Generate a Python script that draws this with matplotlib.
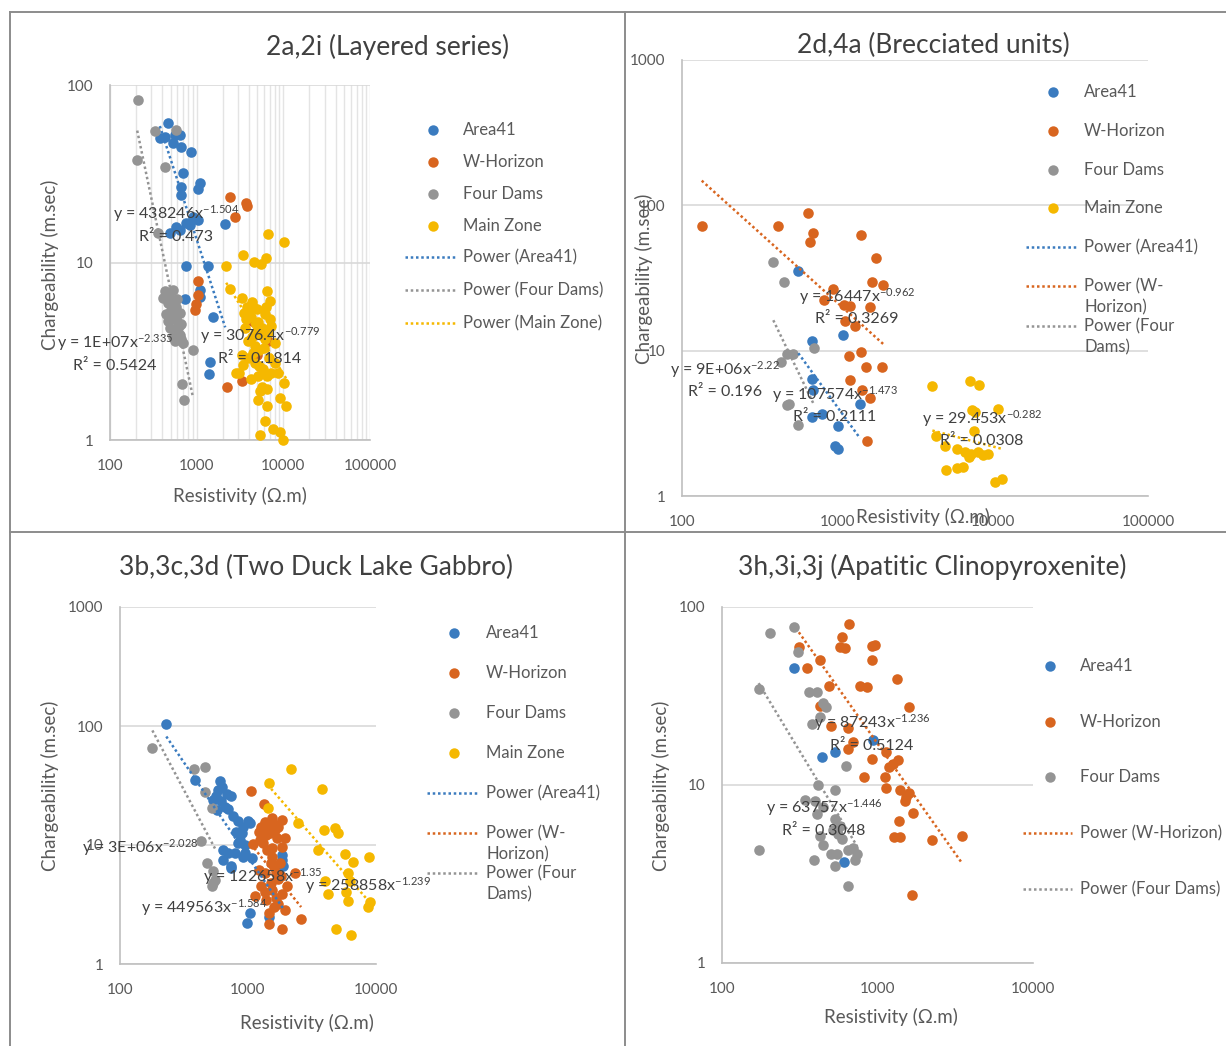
import numpy as np
import matplotlib
matplotlib.use("Agg")
import matplotlib.pyplot as plt
from matplotlib.lines import Line2D
from matplotlib.ticker import FixedLocator, FixedFormatter, NullFormatter, LogLocator

# ---------------- 2a,2i (Layered series) ----------------
LAYERED_AREA41_RES = [464, 428, 559, 638, 534, 668, 376, 870, 700, 668, 668, 1081, 1040, 760, 638,
                      489, 900, 1040, 832, 2134, 760, 1360, 1081, 1081, 728, 1540, 1410, 1374, 584]
LAYERED_AREA41_CHG = [61, 51, 52, 52, 47, 45, 50, 42, 31.8, 26.7, 24, 28, 26, 16.6, 15.2,
                      14.7, 18.1, 17.3, 16.2, 16.5, 9.5, 9.5, 7.0, 6.4, 6.2, 4.9, 2.76, 2.35, 15.9]
LAYERED_WHOR_RES = [2395, 3855, 3700, 2734, 1040, 1040, 992, 949, 2250, 3300, 4300, 6650, 5000]
LAYERED_WHOR_CHG = [23.5, 20.8, 21.5, 18.1, 7.9, 6.6, 5.8, 5.4, 2.0, 2.15, 4.7, 3.6, 3.0]
LAYERED_FDAMS_RES = [211, 329, 584, 206, 428, 359, 428, 534, 467, 583, 448, 559, 668, 489, 611,
                     534, 668, 700, 410, 638, 900, 677, 715, 480, 520, 600, 470, 620, 560, 640,
                     500, 590]
LAYERED_FDAMS_CHG = [82, 55, 56, 37.8, 34.5, 14.6, 6.9, 7.0, 5.9, 5.6, 5.1, 4.9, 4.5, 4.3, 4.0,
                     3.8, 3.7, 3.5, 6.3, 5.2, 3.2, 2.07, 1.68, 6.6, 6.0, 6.2, 4.7, 4.4, 3.6, 3.9,
                     5.4, 4.7]
LAYERED_MAIN_RES = [6730, 10260, 3405, 4640, 5540, 6330, 2190, 2400, 6400, 7000, 3300, 3800, 4500,
                    6100, 5100, 3700, 7300, 4650, 6650, 7950, 3300, 2880, 3430, 5100, 8700, 7300,
                    5330, 6400, 5100, 6400, 9100, 10800, 6100, 7600, 9100, 5330, 9900, 3900, 4650,
                    3500, 4200, 5000, 5600, 4400, 6200, 5300, 3900, 4700, 6800, 5800, 8000, 4200,
                    3100, 10300, 4000, 4800, 5500, 6000, 4500, 5200, 6500, 5700, 3600, 7000, 6300,
                    4300]
LAYERED_MAIN_CHG = [14.4, 13, 11, 10.1, 9.8, 10.6, 9.5, 7.1, 6.9, 6.1, 6.3, 5.6, 5.6,
                    5.1, 4.6, 4.8, 4.4, 4.0, 4.0, 3.5, 3.0, 2.4, 2.65, 2.3, 2.4, 2.4,
                    1.9, 1.95, 1.68, 1.55, 1.72, 1.55, 1.28, 1.16, 1.11, 1.07, 1.0, 3.6, 3.4,
                    5.2, 4.9, 5.5, 4.3, 3.8, 3.7, 3.2, 2.9, 2.7, 2.9, 2.5, 2.7, 2.2,
                    2.4, 2.1, 5.3, 4.5, 3.9, 3.3, 3.1, 2.6, 2.3, 2.0, 4.3, 4.8, 5.6,
                    6.0]
LAYERED_FIT_SERIES = ["Area41", "Four Dams", "Main Zone"]
LAYERED_FIT_COEF = [438246, 1.4e7, 3076.4]
LAYERED_FIT_EXP = [-1.504, -2.335, -0.779]
LAYERED_FIT_R2 = [0.473, 0.5424, 0.1814]

# ---------------- 2d,4a (Brecciated units) ----------------
BRECCIA_AREA41_RES = [561, 1084, 691, 684, 695, 1400, 684, 794, 1016, 966, 1016]
BRECCIA_AREA41_CHG = [35.3, 12.8, 11.7, 6.4, 5.4, 4.3, 3.5, 3.66, 3.03, 2.2, 2.1]
BRECCIA_WHOR_RES = [134, 417, 644, 695, 667, 1416, 1776, 1665, 1977, 942, 820, 1100, 1200, 1625,
                    1122, 1301, 1189, 1416, 1525, 1950, 1208, 1436, 1625, 1560]
BRECCIA_WHOR_CHG = [72, 72, 88, 64.7, 55.6, 62.5, 43.6, 29.8, 28.3, 26.5, 22.3, 20.6, 20.3, 19.9,
                    16, 14.8, 9.2, 9.8, 7.7, 7.7, 6.3, 5.4, 4.7, 2.4]
BRECCIA_FDAMS_RES = [387, 454, 708, 472, 516, 433, 472, 490, 556]
BRECCIA_FDAMS_CHG = [40.9, 29.8, 10.4, 9.5, 9.5, 8.4, 4.2, 4.3, 3.1]
BRECCIA_MAIN_RES = [4090, 7140, 8200, 7330, 7700, 10800, 4300, 7630, 4930, 5900, 6600, 7300, 8000,
                    8700, 9370, 7000, 5010, 5870, 6420, 10360, 11430]
BRECCIA_MAIN_CHG = [5.7, 6.2, 5.8, 3.9, 3.8, 4.0, 2.6, 2.8, 2.2, 2.1, 2.0, 1.95, 2.0,
                    1.9, 1.96, 1.85, 1.52, 1.55, 1.59, 1.25, 1.3]
BRECCIA_FIT_SERIES = ["Area41", "W-Horizon", "Four Dams", "Main Zone"]
BRECCIA_FIT_COEF = [107574, 16447, 9e6, 29.453]
BRECCIA_FIT_EXP = [-1.473, -0.962, -2.22, -0.282]
BRECCIA_FIT_R2 = [0.2111, 0.3269, 0.196, 0.0308]

# ---------------- 3b,3c,3d (Two Duck Lake Gabbro) ----------------
GABBRO_AREA41_RES = [230, 385, 604, 630, 585, 535, 620, 740, 570, 661, 768, 840, 920, 1036, 890,
                     866, 840, 640, 791, 947, 1070, 640, 740, 740, 1830, 1890, 1830, 1036, 974,
                     1450, 1000, 920, 560, 680, 700, 800, 950, 700]
GABBRO_AREA41_CHG = [104, 35.2, 34.3, 31, 29, 24, 23.5, 25.6, 19.7, 21, 17.4, 15.8, 14.3, 15.2, 12.5,
                     11.0, 10.3, 9.1, 8.6, 8.6, 7.8, 7.5, 6.4, 6.7, 7.5, 6.7, 8.2, 2.7, 2.2,
                     2.5, 15.8, 7.9, 26, 27, 20, 12.8, 10, 8.5]
GABBRO_WHOR_RES = [1055, 1343, 1270, 1530, 1830, 1390, 1730, 1946, 1090, 1310, 1210, 1486, 1830,
                   1626, 1530, 1778, 1358, 1710, 1270, 1530, 1830, 1390, 1730, 1450, 1946, 2329,
                   2600, 1450, 1830, 1134, 1210, 2000, 1600, 1400, 1650, 1350, 1450, 1600, 1700,
                   1250, 1500, 1650, 1500, 1350, 1600, 1800, 1550]
GABBRO_WHOR_CHG = [28.4, 22, 14.3, 16.7, 16.2, 12.1, 14.3, 11.4, 10.2, 10.3, 12.9, 12.5, 9.7,
                   13.4, 8.0, 7.1, 5.8, 5.2, 4.5, 4.2, 3.9, 3.45, 3.2, 2.7, 2.85, 5.8,
                   2.4, 2.15, 1.96, 3.75, 6.2, 4.5, 6.5, 9.0, 3.6, 15.5, 13.5, 15, 11.5,
                   11, 7, 5.8, 4.8, 4.0, 3.0, 5.5, 9.5]
GABBRO_FDAMS_RES = [179, 378, 461, 461, 520, 427, 475, 535, 535, 552, 520]
GABBRO_FDAMS_CHG = [65.4, 43.3, 45.5, 28, 20.5, 10.9, 7.1, 6.0, 4.8, 5.1, 4.5]
GABBRO_MAIN_RES = [2160, 1450, 3800, 1425, 2460, 3930, 4780, 5060, 3540, 5730, 6640, 8800, 6000,
                   6270, 4000, 4220, 5860, 8980, 8700, 6000, 4900, 6400]
GABBRO_MAIN_CHG = [43.3, 33.5, 29.3, 20.5, 15.3, 13.4, 13.9, 12.5, 9.1, 8.4, 7.2, 7.9, 5.8,
                   5.0, 5.0, 3.9, 4.0, 3.3, 3.0, 3.4, 1.96, 1.75]
GABBRO_FIT_SERIES = ["Area41", "W-Horizon", "Four Dams", "Main Zone"]
GABBRO_FIT_COEF = [449563, 122658, 3.4e6, 258858]
GABBRO_FIT_EXP = [-1.584, -1.35, -2.028, -1.239]
GABBRO_FIT_R2 = [None, None, None, None]

# ---------------- 3h,3i,3j (Apatitic Clinopyroxenite) ----------------
CLINO_AREA41_RES = [290, 440, 533, 937, 610]
CLINO_AREA41_CHG = [45.2, 14.3, 15.4, 18.0, 3.7]
CLINO_WHOR_RES = [655, 590, 574, 618, 920, 964, 920, 312, 427, 350, 1330, 772, 860, 490, 1600, 424,
                  505, 645, 700, 645, 920, 1140, 1180, 1265, 1350, 815, 1117, 1140, 1395, 1530,
                  1600, 1502, 1700, 1380, 1280, 1395, 2250, 3480, 1660]
CLINO_WHOR_CHG = [80, 68, 59.5, 58.5, 60, 61.2, 50.7, 59.5, 50.7, 45.2, 39.3, 36, 35.4, 36, 27.5, 27.8,
                  21.4, 20.8, 17.5, 16, 14.0, 15.4, 12.7, 13.2, 13.8, 11.1, 11.1, 9.6, 9.4, 8.6,
                  9.0, 8.1, 7.0, 6.3, 5.1, 5.1, 4.9, 5.2, 2.4]
CLINO_FDAMS_RES = [204, 290, 310, 172, 360, 406, 447, 468, 380, 424, 627, 416, 533, 342, 397, 406,
                   447, 533, 574, 560, 427, 590, 447, 505, 550, 645, 700, 740, 717, 172, 390, 533,
                   645, 520]
CLINO_FDAMS_CHG = [71, 77, 56, 34.6, 33.3, 33.3, 28.7, 27.5, 22, 24.2, 12.8, 10, 9.4, 8.2, 8.1, 6.9,
                   7.5, 6.4, 5.9, 5.3, 5.2, 5.0, 4.6, 4.1, 4.1, 4.3, 4.4, 4.1, 3.8, 4.3, 3.8, 3.5,
                   2.7, 5.6]
CLINO_FIT_SERIES = ["W-Horizon", "Four Dams"]
CLINO_FIT_COEF = [87243, 63757]
CLINO_FIT_EXP = [-1.236, -1.446]
CLINO_FIT_R2 = [0.5124, 0.3048]

COLORS = {"Area41": "#3a7bbf", "W-Horizon": "#d8651f", "Four Dams": "#949494", "Main Zone": "#f5b800"}


def main():
    W, H = 1226, 1046
    plt.rcParams["font.family"] = ["Lato", "DejaVu Sans"]
    plt.rcParams["mathtext.fontset"] = "custom"
    plt.rcParams["mathtext.rm"] = "Lato"
    plt.rcParams["mathtext.it"] = "Lato:italic"
    plt.rcParams["mathtext.bf"] = "Lato:bold"
    plt.rcParams["mathtext.default"] = "regular"

    TEXT = "#404040"
    TICK = "#595959"
    GRID = "#d9d9d9"
    DOTS = (0, (1, 1.1))

    fig = plt.figure(figsize=(W / 100, H / 100), dpi=100)

    def fx(x):
        return x / W

    def fy(y):
        return 1 - y / H

    def fmt_coef(c):
        # large coefficients shown in scientific form
        return f"{c:.0E}" if c >= 1e6 else f"{c:g}"

    def wrap_power(label):
        # "Power (W-Horizon)" -> ["Power (W-", "Horizon)"], "Power (Four Dams)" -> ["Power (Four", "Dams)"]
        inner = label[len("Power "):]
        if "-" in inner:
            head, tail = inner.split("-", 1)
            return [f"Power {head}-", tail]
        head, tail = inner.split(" ", 1)
        return [f"Power {head}", tail]

    panels = [
        dict(title="2a,2i (Layered series)", title_xy=(388, 47),
             box=(110, 85, 370, 440), xlim=(100, 100000), ylim=(1, 100), minor_xgrid=True,
             series={"Area41": (LAYERED_AREA41_RES, LAYERED_AREA41_CHG),
                     "W-Horizon": (LAYERED_WHOR_RES, LAYERED_WHOR_CHG),
                     "Four Dams": (LAYERED_FDAMS_RES, LAYERED_FDAMS_CHG),
                     "Main Zone": (LAYERED_MAIN_RES, LAYERED_MAIN_CHG)},
             fits=(LAYERED_FIT_SERIES, LAYERED_FIT_COEF, LAYERED_FIT_EXP, LAYERED_FIT_R2),
             eq_xy=[(176, 214), (115, 343), (260, 336)], r2_dy=23,
             ylabel_xy=(50, 265), xlabel_xy=(240, 496),
             legend=dict(mx=433, lx=(405, 456), tx=463, wrap=False,
                         rows=[130, 162, 194, 226, 257, 290, 323])),
        dict(title="2d,4a (Brecciated units)", title_xy=(933, 45),
             box=(682, 60, 1148, 496), xlim=(100, 100000), ylim=(1, 1000), minor_xgrid=False,
             series={"Area41": (BRECCIA_AREA41_RES, BRECCIA_AREA41_CHG),
                     "W-Horizon": (BRECCIA_WHOR_RES, BRECCIA_WHOR_CHG),
                     "Four Dams": (BRECCIA_FDAMS_RES, BRECCIA_FDAMS_CHG),
                     "Main Zone": (BRECCIA_MAIN_RES, BRECCIA_MAIN_CHG)},
             fits=(BRECCIA_FIT_SERIES, BRECCIA_FIT_COEF, BRECCIA_FIT_EXP, BRECCIA_FIT_R2),
             eq_xy=[(835, 395), (857, 297), (725, 370), (982, 419)], r2_dy=22,
             ylabel_xy=(644, 279), xlabel_xy=(923, 517),
             legend=dict(mx=1053, lx=(1026, 1077), tx=1084, wrap=True,
                         rows=[92, 131, 170, 208, 247, 286, 326])),
        dict(title="3b,3c,3d (Two Duck Lake Gabbro)", title_xy=(316, 567),
             box=(120, 607, 376, 964), xlim=(100, 10000), ylim=(1, 1000), minor_xgrid=False,
             series={"Area41": (GABBRO_AREA41_RES, GABBRO_AREA41_CHG),
                     "W-Horizon": (GABBRO_WHOR_RES, GABBRO_WHOR_CHG),
                     "Four Dams": (GABBRO_FDAMS_RES, GABBRO_FDAMS_CHG),
                     "Main Zone": (GABBRO_MAIN_RES, GABBRO_MAIN_CHG)},
             fits=(GABBRO_FIT_SERIES, GABBRO_FIT_COEF, GABBRO_FIT_EXP, GABBRO_FIT_R2),
             eq_xy=[(204, 908), (263, 877), (140, 848), (368, 886)], r2_dy=22,
             ylabel_xy=(50, 786), xlabel_xy=(307, 1023),
             legend=dict(mx=454, lx=(427, 478), tx=486, wrap=True,
                         rows=[633, 673, 713, 753, 793, 833, 873])),
        dict(title="3h,3i,3j (Apatitic Clinopyroxenite)", title_xy=(932, 567),
             box=(722, 607, 1033, 963), xlim=(100, 10000), ylim=(1, 100), minor_xgrid=False,
             series={"Area41": (CLINO_AREA41_RES, CLINO_AREA41_CHG),
                     "W-Horizon": (CLINO_WHOR_RES, CLINO_WHOR_CHG),
                     "Four Dams": (CLINO_FDAMS_RES, CLINO_FDAMS_CHG)},
             fits=(CLINO_FIT_SERIES, CLINO_FIT_COEF, CLINO_FIT_EXP, CLINO_FIT_R2),
             eq_xy=[(872, 723), (824, 808)], r2_dy=23,
             ylabel_xy=(661, 786), xlabel_xy=(891, 1017),
             legend=dict(mx=1050, lx=(1023, 1072), tx=1080, wrap=False,
                         rows=[666, 722, 777, 833, 889])),
    ]

    for p in panels:
        l, t, r, b = p["box"]
        ax = fig.add_axes([fx(l), fy(b), (r - l) / W, (b - t) / H])
        ax.set_xscale("log")
        ax.set_yscale("log")
        ax.set_xlim(*p["xlim"])
        ax.set_ylim(*p["ylim"])

        xt = [10 ** k for k in range(int(np.log10(p["xlim"][0])), int(np.log10(p["xlim"][1])) + 1)]
        yt = [10 ** k for k in range(int(np.log10(p["ylim"][0])), int(np.log10(p["ylim"][1])) + 1)]
        ax.xaxis.set_major_locator(FixedLocator(xt))
        ax.xaxis.set_major_formatter(FixedFormatter([str(v) for v in xt]))
        ax.yaxis.set_major_locator(FixedLocator(yt))
        ax.yaxis.set_major_formatter(FixedFormatter([str(v) for v in yt]))
        ax.xaxis.set_minor_formatter(NullFormatter())
        ax.yaxis.set_minor_formatter(NullFormatter())
        ax.yaxis.set_minor_locator(FixedLocator([]))
        ax.tick_params(which="both", length=0, labelsize=11, labelcolor=TICK)
        ax.tick_params(axis="x", pad=14)
        ax.tick_params(axis="y", pad=12)

        for side in ("top", "right"):
            ax.spines[side].set_visible(False)
        for side in ("left", "bottom"):
            ax.spines[side].set_color("#bfbfbf")
            ax.spines[side].set_linewidth(1.2)

        ax.set_axisbelow(True)
        ax.grid(axis="y", which="major", color=GRID, linewidth=1.2)
        if p["minor_xgrid"]:
            ax.xaxis.set_minor_locator(LogLocator(base=10, subs=np.arange(2, 10)))
            ax.grid(axis="x", which="both", color="#e4e4e4", linewidth=1.0)
        else:
            ax.xaxis.set_minor_locator(FixedLocator([]))

        for name, (xs, ys) in p["series"].items():
            ax.scatter(xs, ys, s=58, color=COLORS[name], linewidths=0, zorder=3, clip_on=False)

        # power-law trendlines over each series' resistivity range
        names, coefs, exps, r2s = p["fits"]
        for name, c, e in zip(names, coefs, exps):
            xs = np.asarray(p["series"][name][0], dtype=float)
            xx = np.geomspace(xs.min(), xs.max(), 100)
            ax.plot(xx, c * xx ** e, color=COLORS[name], linewidth=1.8, linestyle=DOTS, zorder=4)

        for c, e, r2, (cx, cy) in zip(coefs, exps, r2s, p["eq_xy"]):
            fig.text(fx(cx), fy(cy), f"y = {fmt_coef(c)}x$^{{{e:g}}}$", ha="center", va="center",
                     fontsize=11.5, color=TEXT, zorder=6)
            if r2 is not None:
                fig.text(fx(cx), fy(cy + p["r2_dy"]), f"R² = {r2:g}", ha="center", va="center",
                         fontsize=11.5, color=TEXT, zorder=6)

        fig.text(fx(p["title_xy"][0]), fy(p["title_xy"][1]), p["title"], ha="center", va="center",
                 fontsize=19, color=TEXT)
        fig.text(fx(p["ylabel_xy"][0]), fy(p["ylabel_xy"][1]), "Chargeability (m.sec)", rotation=90,
                 ha="center", va="center", fontsize=13.5, color=TICK)
        fig.text(fx(p["xlabel_xy"][0]), fy(p["xlabel_xy"][1]), "Resistivity (Ω.m)",
                 ha="center", va="center", fontsize=13.5, color=TICK)

        # legend: markers for every series, then the fitted trendlines
        lg = p["legend"]
        entries = [(name, "marker", COLORS[name]) for name in p["series"]]
        entries += [(f"Power ({name})", "line", COLORS[name]) for name in names]
        for (label, kind, color), y in zip(entries, lg["rows"]):
            if kind == "marker":
                fig.add_artist(Line2D([fx(lg["mx"])], [fy(y)], marker="o", markersize=7.5,
                                      markeredgewidth=0, color=color, transform=fig.transFigure))
                lines = [label]
            else:
                fig.add_artist(Line2D([fx(lg["lx"][0]), fx(lg["lx"][1])], [fy(y), fy(y)],
                                      linewidth=1.8, linestyle=DOTS, color=color,
                                      transform=fig.transFigure))
                lines = wrap_power(label) if lg["wrap"] and len(label) > 15 else [label]
            for i, txt in enumerate(lines):
                fig.text(fx(lg["tx"]), fy(y + 21 * i), txt, ha="left", va="center",
                         fontsize=12, color=TICK)

    # panel frames
    frame = dict(color="#8c8c8c", linewidth=1.4, transform=fig.transFigure)
    fig.add_artist(Line2D([fx(10), fx(10)], [fy(12), fy(H)], **frame))
    fig.add_artist(Line2D([fx(10), fx(W)], [fy(12), fy(12)], **frame))
    fig.add_artist(Line2D([fx(625), fx(625)], [fy(12), fy(H)], **frame))
    fig.add_artist(Line2D([fx(10), fx(W)], [fy(532), fy(532)], **frame))

    fig.savefig("out.png", dpi=100, facecolor="white")


if __name__ == "__main__":
    main()
